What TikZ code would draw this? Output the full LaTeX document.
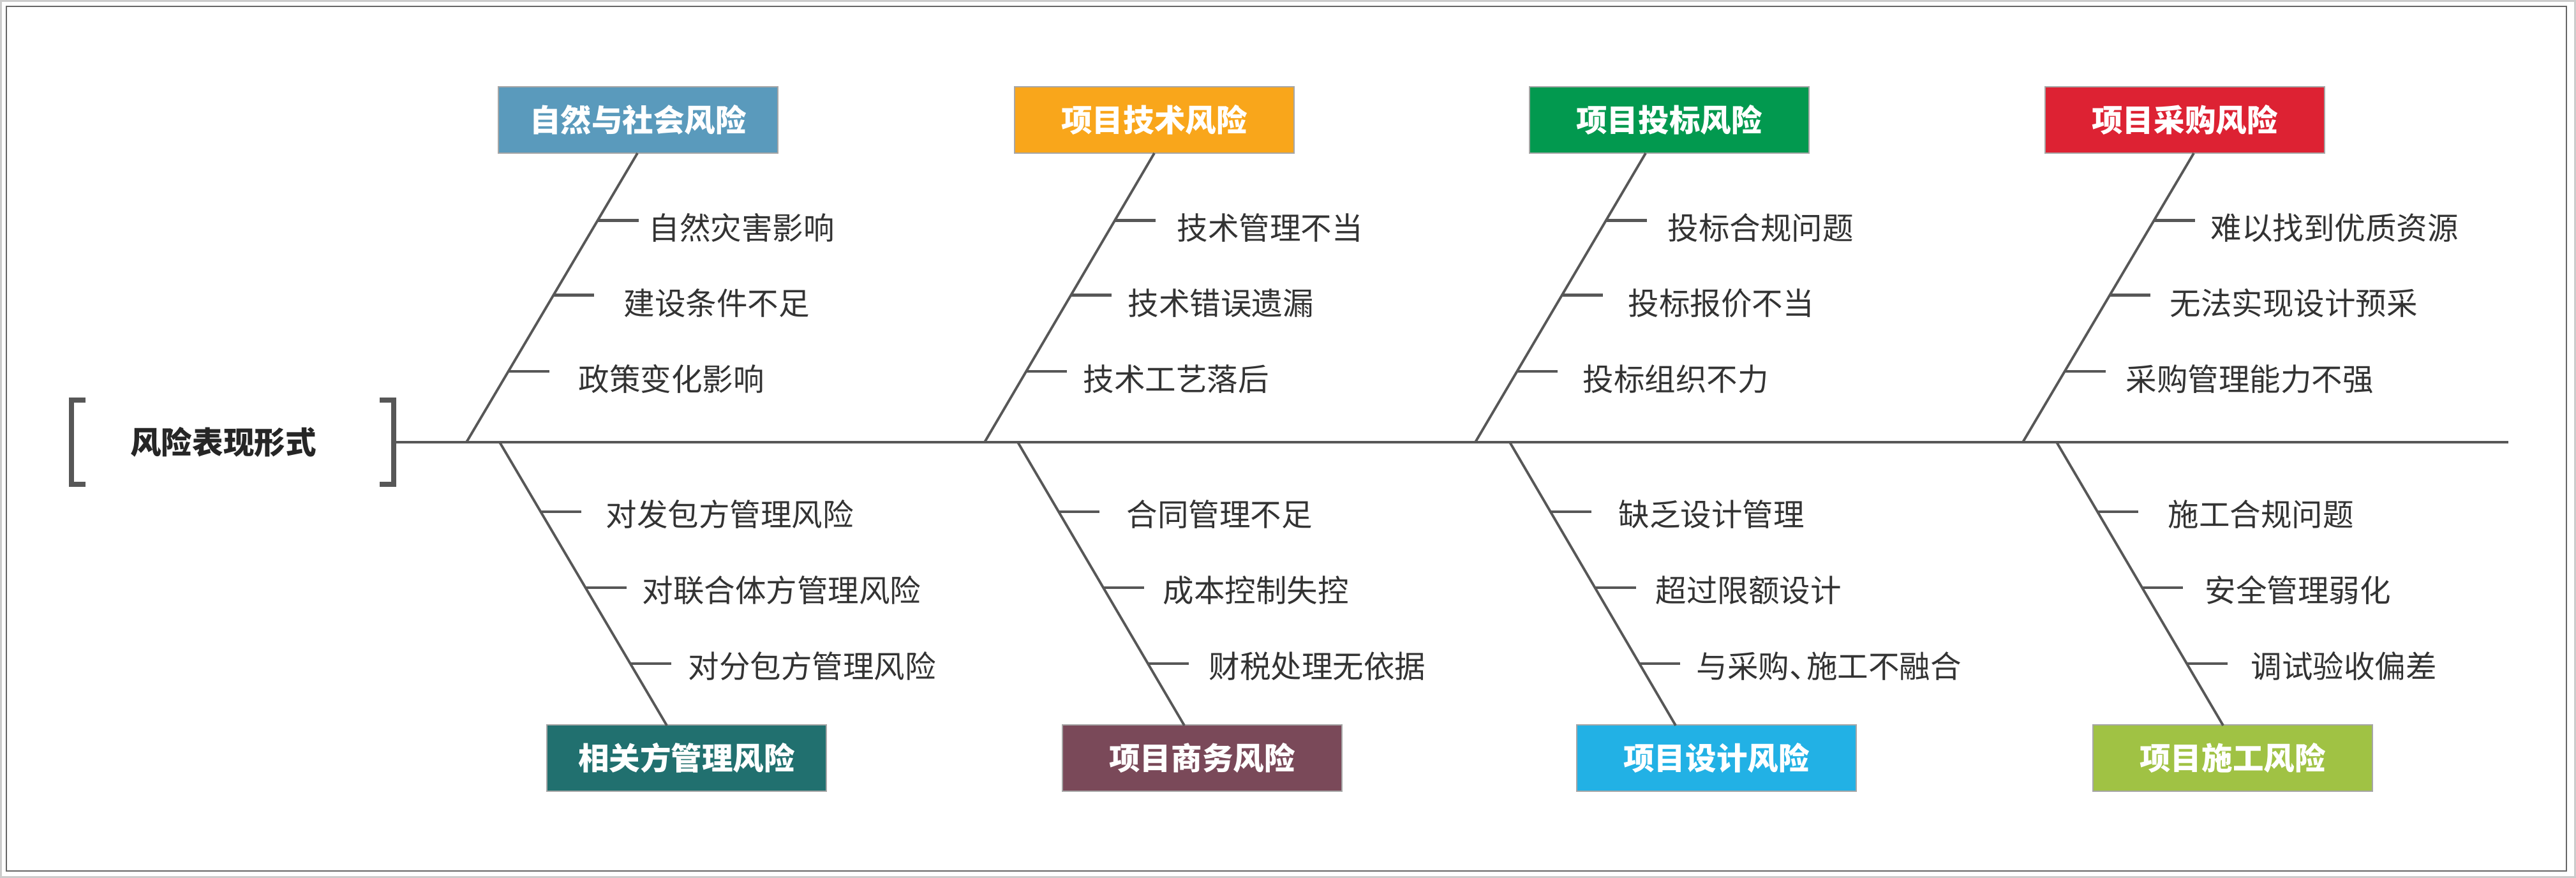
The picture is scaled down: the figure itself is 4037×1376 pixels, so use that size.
\documentclass[tikz,border=0pt]{standalone}
\usepackage{fontspec}
\setmainfont{Noto Sans CJK SC}
\usetikzlibrary{calc}
\definecolor{cNat}{HTML}{5A9ABC}
\definecolor{cTec}{HTML}{F9A61B}
\definecolor{cBid}{HTML}{02994F}
\definecolor{cPur}{HTML}{DD2233}
\definecolor{cRel}{HTML}{21706F}
\definecolor{cBus}{HTML}{7A4959}
\definecolor{cDes}{HTML}{22B1E5}
\definecolor{cCon}{HTML}{A0C244}
\definecolor{lineC}{HTML}{575757}
\definecolor{txtC}{HTML}{333333}
\tikzset{
  catbox/.style={draw=gray!70, line width=0.5pt, minimum width=4.38cm, minimum height=1.04cm,
    text=white, font=\fontsize{13.8pt}{14pt}\selectfont\bfseries, inner sep=0pt},
  item/.style={anchor=west, inner sep=0pt, text=txtC, font=\fontsize{13.8pt}{14pt}\selectfont},
  bone/.style={draw=lineC, line width=1.1pt},
  tick/.style={draw=lineC, line width=1.4pt},
}
\begin{document}
\begin{tikzpicture}[x=0.01cm, y=-0.01cm]
\useasboundingbox (0,0) rectangle (4037,1376);
\fill[white] (0,0) rectangle (4037,1376);
\draw[gray!40, line width=1pt] (1,1) rectangle (4036,1375);
\draw[gray!80!black, line width=0.6pt] (10,10) rectangle (4022,1365);

% head
\node[font=\fontsize{13.8pt}{14pt}\selectfont\bfseries, text=black!85] (title) at (350,693) {风险表现形式};
\draw[lineC, line width=2.4pt] (134,627) -- (112,627) -- (112,759) -- (134,759);
\draw[lineC, line width=2.4pt] (595,627) -- (617,627) -- (617,759) -- (595,759);
\coordinate (spL) at (620,693);
\coordinate (spR) at (3931,693);
\draw[bone] (spL) -- (spR);

% top boxes
\node[catbox, fill=cNat] (nat) at (1000,188) {自然与社会风险};
\node[catbox, fill=cTec] (tec) at (1809,188) {项目技术风险};
\node[catbox, fill=cBid] (bid) at (2616,188) {项目投标风险};
\node[catbox, fill=cPur] (pur) at (3424,188) {项目采购风险};
% bottom boxes
\node[catbox, fill=cRel] (rel) at (1076,1188) {相关方管理风险};
\node[catbox, fill=cBus] (bus) at (1884,1188) {项目商务风险};
\node[catbox, fill=cDes] (des) at (2690,1188) {项目设计风险};
\node[catbox, fill=cCon] (con) at (3499,1188) {项目施工风险};

% top bones
\coordinate (a0) at (999,240);  \coordinate (a1) at (731,693);
\coordinate (b0) at (1809,240); \coordinate (b1) at (1543,693);
\coordinate (c0) at (2579,240); \coordinate (c1) at (2312,693);
\coordinate (d0) at (3438,240); \coordinate (d1) at (3170,693);
\draw[bone] (a1) -- (a0);
\draw[bone] (b1) -- (b0);
\draw[bone] (c1) -- (c0);
\draw[bone] (d1) -- (d0);
% bottom bones
\coordinate (e0) at (783,693);  \coordinate (e1) at (1045,1137);
\coordinate (f0) at (1595,693); \coordinate (f1) at (1856,1137);
\coordinate (g0) at (2366,693); \coordinate (g1) at (2626,1137);
\coordinate (h0) at (3223,693); \coordinate (h1) at (3484,1137);
\draw[bone] (e0) -- (e1);
\draw[bone] (f0) -- (f1);
\draw[bone] (g0) -- (g1);
\draw[bone] (h0) -- (h1);

% top ticks and items
\foreach \b/\xa/\xb/\xc/\ta/\tb/\tc in {
  a/1016/977/906/自然灾害影响/建设条件不足/政策变化影响,
  b/1844/1767/1697/技术管理不当/技术错误遗漏/技术工艺落后,
  c/2613/2551/2480/投标合规问题/投标报价不当/投标组织不力,
  d/3464/3400/3331/难以找到优质资源/无法实现设计预采/采购管理能力不强}{
  \coordinate (\b t1) at ($(\b1)!0.768!(\b0)$);
  \coordinate (\b t2) at ($(\b1)!0.508!(\b0)$);
  \coordinate (\b t3) at ($(\b1)!0.245!(\b0)$);
  \draw[tick] (\b t1) -- ++(64,0);
  \draw[tick] (\b t2) -- ++(64,0);
  \draw[tick] (\b t3) -- ++(64,0);
  \node[item] (\b i1) at (\xa,357) {\ta};
  \node[item] (\b i2) at (\xb,475) {\tb};
  \node[item] (\b i3) at (\xc,594) {\tc};
}
% bottom ticks and items
\foreach \b/\xa/\xb/\xc/\ta/\tb/\tc in {
  e/949/1006/1078/对发包方管理风险/对联合体方管理风险/对分包方管理风险,
  f/1765/1822/1894/合同管理不足/成本控制失控/财税处理无依据,
  g/2536/2594/2658/缺乏设计管理/超过限额设计/{与采购、\kern-0.45em施工不融合},
  h/3397/3455/3527/施工合规问题/安全管理弱化/调试验收偏差}{
  \coordinate (\b t1) at ($(\b0)!0.2455!(\b1)$);
  \coordinate (\b t2) at ($(\b0)!0.5135!(\b1)$);
  \coordinate (\b t3) at ($(\b0)!0.7815!(\b1)$);
  \draw[tick] (\b t1) -- ++(64,0);
  \draw[tick] (\b t2) -- ++(64,0);
  \draw[tick] (\b t3) -- ++(64,0);
  \node[item] (\b i1) at (\xa,806) {\ta};
  \node[item] (\b i2) at (\xb,925) {\tb};
  \node[item] (\b i3) at (\xc,1044) {\tc};
}
\end{tikzpicture}
\end{document}
